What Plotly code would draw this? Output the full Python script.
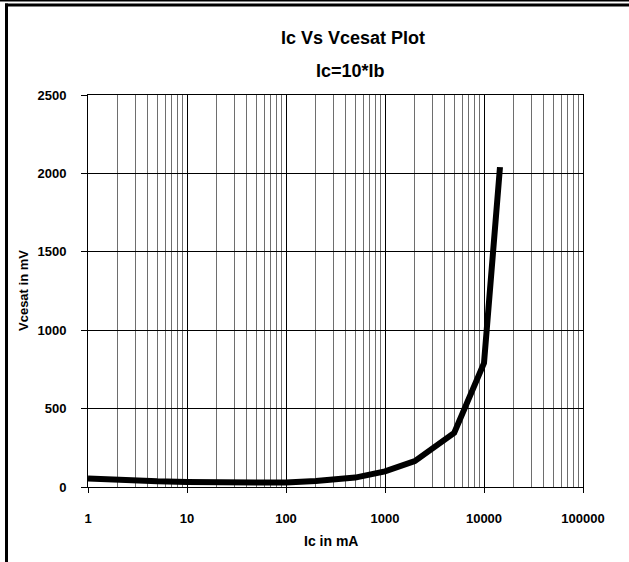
import plotly.graph_objects as go

ic_ma = [1, 2, 5, 10, 20, 50, 100, 200, 500, 1000, 2000, 5000, 10000, 14500]
vcesat_mv = [55, 45, 36, 32, 30, 28, 28, 38, 60, 100, 165, 345, 790, 2040]

x_tick_vals = [1, 10, 100, 1000, 10000, 100000]
x_tick_text = ["1", "10", "100", "1000", "10000", "100000"]
y_tick_vals = [0, 500, 1000, 1500, 2000, 2500]

FONT = "Liberation Sans, Arial, sans-serif"

fig = go.Figure()
fig.add_trace(go.Scatter(x=ic_ma, y=vcesat_mv, mode="lines",
                         line=dict(color="black", width=6), showlegend=False))

L, R, T, B = 88, 46, 95, 75
W, H = 629, 562
pw, ph = W - L - R, H - T - B

def px(x):
    return (x - L) / pw

def py(y):
    return (H - B - y) / ph

fig.update_layout(
    width=W, height=H,
    margin=dict(l=L, r=R, t=T, b=B),
    paper_bgcolor="white", plot_bgcolor="white",
    font=dict(family=FONT, color="black", size=12),
    xaxis=dict(
        type="log", range=[0, 5],
        tickvals=x_tick_vals, ticktext=x_tick_text,
        tickfont=dict(family=FONT, size=13, weight="bold"),
        ticks="outside", ticklen=5, tickcolor="black",
        ticklabelstandoff=14,
        showgrid=True, gridcolor="black", gridwidth=1,
        minor=dict(showgrid=True, gridcolor="#6e6e6e", gridwidth=1, dtick="D1"),
        showline=True, linecolor="black", linewidth=1, mirror=True,
        zeroline=False,
    ),
    yaxis=dict(
        range=[0, 2500],
        tickvals=y_tick_vals,
        tickfont=dict(family=FONT, size=13, weight="bold"),
        ticks="outside", ticklen=6, tickcolor="black",
        ticklabelstandoff=12,
        showgrid=True, gridcolor="black", gridwidth=1,
        showline=True, linecolor="black", linewidth=1, mirror=True,
        zeroline=False,
    ),
    annotations=[
        dict(text="Ic Vs Vcesat Plot", xref="paper", yref="paper", x=px(353), y=py(38),
             showarrow=False, font=dict(family=FONT, size=18, weight="bold"), xanchor="center", yanchor="middle"),
        dict(text="Ic=10*Ib", xref="paper", yref="paper", x=px(350), y=py(71),
             showarrow=False, font=dict(family=FONT, size=18, weight="bold"), xanchor="center", yanchor="middle"),
        dict(text="Ic in mA", xref="paper", yref="paper", x=px(331), y=py(541),
             showarrow=False, font=dict(family=FONT, size=14, weight="bold"), xanchor="center", yanchor="middle"),
        dict(text="Vcesat in mV", xref="paper", yref="paper", x=px(23), y=py(291), textangle=-90,
             showarrow=False, font=dict(family=FONT, size=13, weight="bold"), xanchor="center", yanchor="middle"),
    ],
    shapes=[
        dict(type="rect", xref="paper", yref="paper", x0=px(0), x1=px(629), y0=py(0), y1=py(1.5),
             fillcolor="black", line=dict(width=0), layer="above"),
        dict(type="rect", xref="paper", yref="paper", x0=px(5), x1=px(629), y0=py(3.5), y1=py(6.5),
             fillcolor="black", line=dict(width=0), layer="above"),
        dict(type="rect", xref="paper", yref="paper", x0=px(5), x1=px(8), y0=py(3.5), y1=py(562),
             fillcolor="black", line=dict(width=0), layer="above"),
    ],
)

fig.write_html("out.html", config={"displayModeBar": False},
               post_script="document.body.style.margin='0';")
